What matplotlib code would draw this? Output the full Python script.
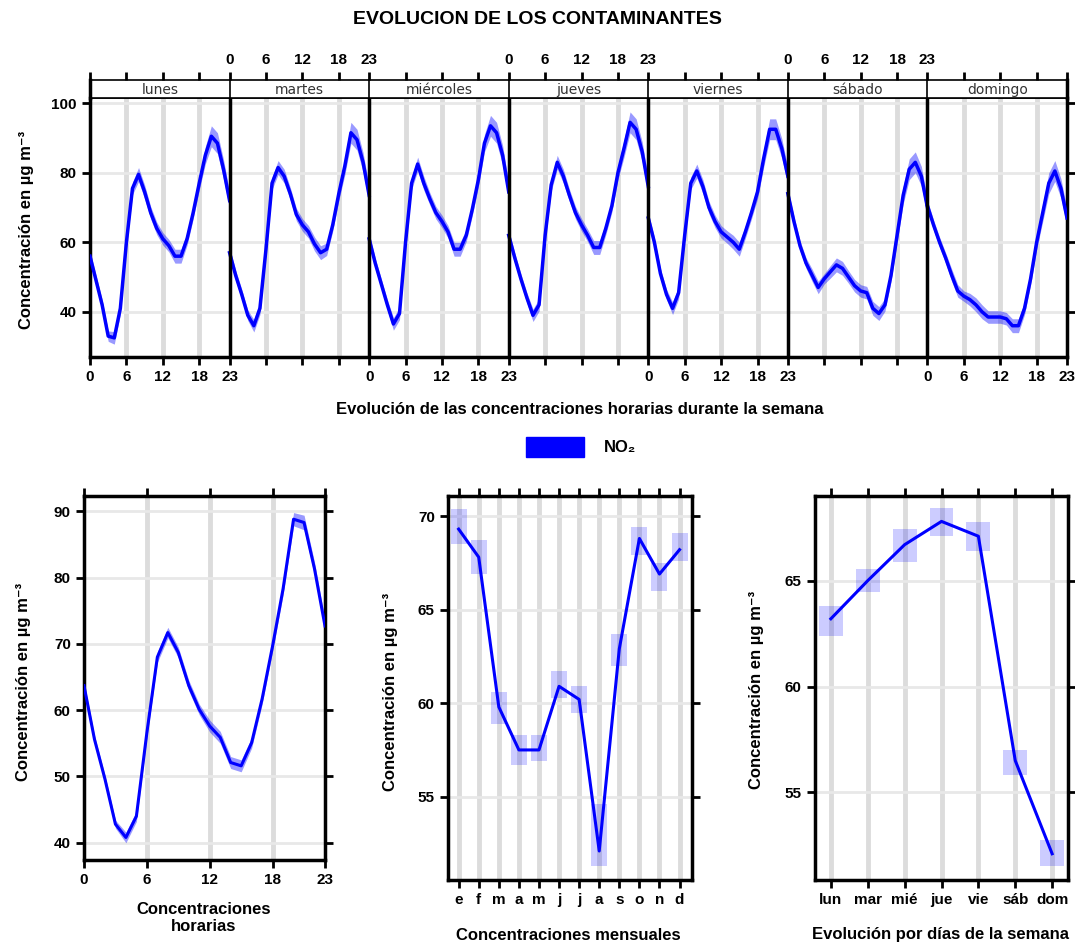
import numpy as np
import matplotlib
matplotlib.use("Agg")
import matplotlib.pyplot as plt
from matplotlib.patches import Patch

plt.rcParams['font.family'] = ['Liberation Sans', 'DejaVu Sans']
plt.rcParams['font.weight'] = 'bold'

# datos (NO2, ug m-3)
dias = ["lunes", "martes", "miércoles", "jueves", "viernes", "sábado", "domingo"]
horas = list(range(24))

lunes = [56, 49, 42, 33, 32.5, 41, 60, 75.5, 79.5, 74.5, 68.5, 64, 61, 59, 56, 56, 61, 68.5, 77, 85, 90.5, 88.5, 81, 72]
martes = [57, 50.5, 45, 39, 36, 41, 58, 77, 81.5, 79, 74, 68, 65, 63, 59.5, 57, 58, 65, 74, 82, 91.5, 89.5, 83, 73.5]
miercoles = [61, 54, 48, 42, 36.5, 39.5, 60, 77, 82.5, 77, 72.5, 68.5, 66, 63, 58, 58, 62, 69.5, 78, 88.5, 93.5, 91.5, 85, 74.5]
jueves = [62, 55.5, 49.5, 44, 39, 42, 62, 76.5, 83, 79, 73.5, 68.5, 65, 62, 58.5, 58.5, 64, 70.5, 80, 87, 94.5, 92.5, 86, 76]
viernes = [67, 60, 51, 45, 41, 45.5, 62, 77, 80.5, 76, 70, 66, 63, 61.5, 60, 58, 63, 68.5, 74.5, 84, 92.5, 92.5, 87, 79]
sabado = [74, 66, 59, 54, 50.5, 47, 49.5, 51.5, 53.5, 52.5, 50, 47.5, 46, 45.5, 41, 39.5, 42, 50.5, 62, 73.5, 81, 83, 79, 70]
domingo = [70.5, 65, 60, 55.5, 50.5, 46, 44.5, 43.5, 42, 40, 38.5, 38.5, 38.5, 38, 36, 36, 41, 49.5, 60, 68.5, 77, 80.5, 75.5, 67]
ci_semana = [1.5, 1.5, 1.5, 1.5, 1.8, 1.8, 1.5, 1.8, 2, 2, 1.8, 1.8, 1.8, 1.8, 2, 2, 1.8, 1.8, 2, 2.5, 3, 3, 2.8, 2.5]

hora_media = [63.7, 55.6, 49.6, 42.8, 40.8, 44.0, 56.6, 68.0, 71.7, 68.7, 63.7, 60.1,
              57.6, 55.9, 52.1, 51.6, 55.1, 61.7, 69.7, 78.3, 88.8, 88.3, 81.3, 72.7]
ci_hora = [0.6, 0.6, 0.6, 0.6, 0.8, 0.8, 0.7, 0.8, 0.8, 0.8, 0.8, 0.8,
           0.9, 0.9, 0.9, 0.9, 0.8, 0.8, 0.8, 0.9, 1.0, 1.1, 1.0, 0.9]

meses = ["e", "f", "m", "a", "m", "j", "j", "a", "s", "o", "n", "d"]
mes_media = [69.3, 67.8, 59.8, 57.5, 57.5, 60.9, 60.2, 52.1, 62.9, 68.8, 66.9, 68.2]
mes_inf = [68.5, 66.9, 58.9, 56.7, 56.9, 60.3, 59.5, 51.3, 62.0, 67.9, 66.0, 67.6]
mes_sup = [70.4, 68.7, 60.6, 58.3, 58.3, 61.7, 60.9, 54.6, 63.7, 69.4, 67.5, 69.1]

dias_cortos = ["lun", "mar", "mié", "jue", "vie", "sáb", "dom"]
dia_media = [63.2, 65.0, 66.7, 67.8, 67.1, 56.5, 52.1]
dia_inf = [62.4, 64.45, 65.9, 67.1, 66.4, 55.8, 51.5]
dia_sup = [63.8, 65.55, 67.45, 68.45, 67.75, 57.0, 52.75]

W, H = 1075, 942
azul = "#0000ff"
gris_v = "#dcdcdc"
gris_h = "#e8e8e8"
ylab = "Concentración en µg m⁻³"
fs_lab = 12


def estilo(ax, lw=2.5):
    for s in ax.spines.values():
        s.set_linewidth(lw)
    ax.tick_params(direction="out", length=6, width=2, labelsize=11)


fig = plt.figure(figsize=(W / 100, H / 100), dpi=100)
fig.text(0.5, 1 - 20 / H, "EVOLUCION DE LOS CONTAMINANTES", ha="center", va="center",
         fontsize=14)

# ---- panel semanal ----
ax = fig.add_axes([90 / W, 1 - 357 / H, 977 / W, 259 / H])
semana = [lunes, martes, miercoles, jueves, viernes, sabado, domingo]
cs = np.array(ci_semana)
for d, vals in enumerate(semana):
    x = d * 23 + np.array(horas)
    v = np.array(vals)
    ax.fill_between(x, v - cs, v + cs, color=azul, alpha=0.4, lw=0, zorder=2)
    ax.plot(x, v, color=azul, lw=2.5, zorder=3)
    for h in (6, 12, 18):
        ax.axvline(d * 23 + h, color=gris_v, lw=3.5, zorder=0)
    if d > 0:
        ax.axvline(d * 23, color="black", lw=2.5, zorder=4)
ax.set_xlim(0, 161)
ax.set_ylim(27, 101.5)
ax.set_yticks([40, 60, 80, 100])
ax.grid(axis="y", color=gris_h, lw=2)
ax.set_axisbelow(True)

abajo, arriba = {}, {}
for d in range(7):
    for h in (0, 6, 12, 18, 23):
        p = d * 23 + h
        dest, otro = (abajo, arriba) if d % 2 == 0 else (arriba, abajo)
        dest[p] = str(h)
        otro.setdefault(p, "")
ax.set_xticks(sorted(abajo))
ax.set_xticklabels([abajo[p] for p in sorted(abajo)])
estilo(ax)
ax.spines["top"].set_linewidth(1.2)
ax.tick_params(axis="y", right=True, labelright=False)
ax.tick_params(axis="x", top=False)

ax_s = fig.add_axes([90 / W, 1 - 98 / H, 977 / W, 18 / H])
ax_s.set_xlim(0, 161)
ax_s.set_ylim(0, 1)
for d, nombre in enumerate(dias):
    ax_s.text(d * 23 + 11.5, 0.45, nombre, ha="center", va="center", fontsize=10,
              family="DejaVu Sans", fontweight="normal", color="#333333")
    if d > 0:
        ax_s.axvline(d * 23, color="black", lw=1.2)
ax_s.set_yticks([])
ax_s.set_xticks(sorted(arriba))
ax_s.set_xticklabels([arriba[p] for p in sorted(arriba)])
estilo(ax_s, lw=1.2)
ax_s.tick_params(axis="x", bottom=False, labelbottom=False, top=True, labeltop=True)
ax_s.spines["left"].set_linewidth(2.5)
ax_s.spines["right"].set_linewidth(2.5)

fig.text(27 / W, 1 - 230 / H, ylab, rotation=90, ha="center", va="center", fontsize=fs_lab)
fig.text(580 / W, 1 - 410 / H, "Evolución de las concentraciones horarias durante la semana",
         ha="center", va="center", fontsize=fs_lab)

fig.legend(handles=[Patch(facecolor=azul, edgecolor=azul)], labels=["NO₂"],
           loc="center", bbox_to_anchor=(581 / W, 1 - 447 / H), frameon=False,
           handlelength=3.5, handleheight=1.5, handletextpad=1.2,
           prop={"weight": "bold", "size": 12})

# ---- concentraciones horarias ----
ax1 = fig.add_axes([84 / W, 1 - 860 / H, 241 / W, 364 / H])
hm = np.array(hora_media)
ch = np.array(ci_hora)
ax1.fill_between(horas, hm - ch, hm + ch, color=azul, alpha=0.4, lw=0, zorder=2)
ax1.plot(horas, hm, color=azul, lw=2.2, zorder=3)
for h in (6, 12, 18):
    ax1.axvline(h, color=gris_v, lw=3.5, zorder=0)
ax1.set_xlim(0, 23)
ax1.set_ylim(37.4, 92.3)
ax1.set_xticks([0, 6, 12, 18, 23])
ax1.set_yticks([40, 50, 60, 70, 80, 90])
ax1.grid(axis="y", color=gris_h, lw=2)
ax1.set_axisbelow(True)
estilo(ax1)
ax1.tick_params(top=True, right=True, labeltop=False, labelright=False)
fig.text(24 / W, 1 - 682 / H, ylab, rotation=90, ha="center", va="center", fontsize=fs_lab)
fig.text(204 / W, 1 - 918 / H, "Concentraciones\nhorarias", ha="center", va="center",
         fontsize=fs_lab, linespacing=1.15)

# ---- concentraciones mensuales ----
ax2 = fig.add_axes([448 / W, 1 - 880 / H, 244 / W, 384 / H])
xm = np.arange(1, 13)
ax2.bar(xm, np.array(mes_sup) - np.array(mes_inf), bottom=mes_inf, width=0.8,
        color=azul, alpha=0.2, lw=0, zorder=2)
ax2.plot(xm, mes_media, color=azul, lw=2.2, zorder=3)
for m in xm:
    ax2.axvline(m, color=gris_v, lw=3.5, zorder=0)
ax2.set_xlim(0.47, 12.62)
ax2.set_ylim(50.55, 71.07)
ax2.set_xticks(xm)
ax2.set_xticklabels(meses)
ax2.set_yticks([55, 60, 65, 70])
ax2.grid(axis="y", color=gris_h, lw=2)
ax2.set_axisbelow(True)
estilo(ax2)
ax2.tick_params(top=True, right=True, labeltop=False, labelright=False)
fig.text(390 / W, 1 - 692 / H, ylab, rotation=90, ha="center", va="center", fontsize=fs_lab)
fig.text(568 / W, 1 - 935 / H, "Concentraciones mensuales", ha="center", va="center",
         fontsize=fs_lab)

# ---- dias de la semana ----
ax3 = fig.add_axes([815 / W, 1 - 880 / H, 253 / W, 384 / H])
xd = np.arange(1, 8)
ax3.bar(xd, np.array(dia_sup) - np.array(dia_inf), bottom=dia_inf, width=0.65,
        color=azul, alpha=0.2, lw=0, zorder=2)
ax3.plot(xd, dia_media, color=azul, lw=2.2, zorder=3)
for d in xd:
    ax3.axvline(d, color=gris_v, lw=3.5, zorder=0)
ax3.set_xlim(0.57, 7.43)
ax3.set_ylim(50.86, 69.0)
ax3.set_xticks(xd)
ax3.set_xticklabels(dias_cortos)
ax3.set_yticks([55, 60, 65])
ax3.grid(axis="y", color=gris_h, lw=2)
ax3.set_axisbelow(True)
estilo(ax3)
ax3.tick_params(top=True, right=True, labeltop=False, labelright=False)
fig.text(757 / W, 1 - 690 / H, ylab, rotation=90, ha="center", va="center", fontsize=fs_lab)
fig.text(940 / W, 1 - 935 / H, "Evolución por días de la semana", ha="center", va="center",
         fontsize=fs_lab)

fig.savefig("out.png", dpi=100)
